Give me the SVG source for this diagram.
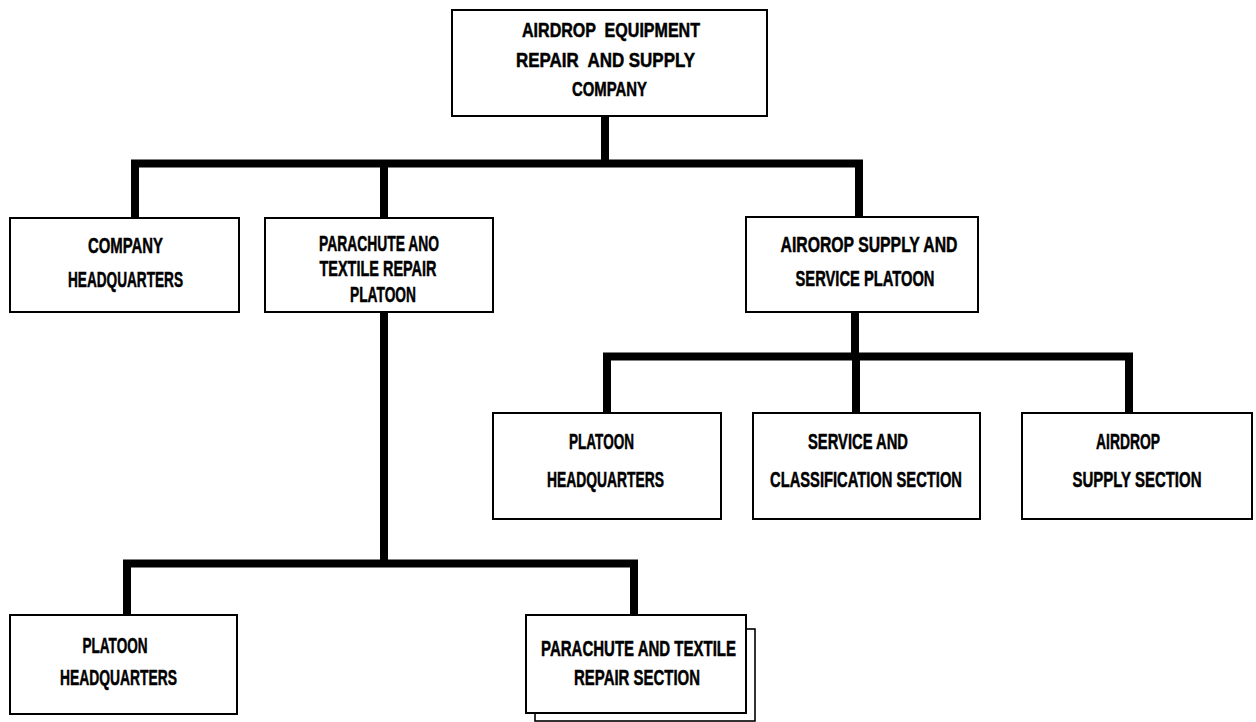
<svg xmlns="http://www.w3.org/2000/svg" width="1256" height="722" viewBox="0 0 1256 722">
<style>
.box{fill:#fff;stroke:#000;stroke-width:2}
.shadow{fill:#fff;stroke:#000;stroke-width:1.6}
.conn{fill:none;stroke:#000;stroke-width:8;stroke-linejoin:miter;stroke-linecap:butt}
text{font-family:"Liberation Sans Narrow","Liberation Sans",Arial,sans-serif;font-weight:bold;font-size:22px;fill:#000;stroke:#000;stroke-width:0.5;white-space:pre}
.sm{font-size:20px}
</style>
<rect width="1256" height="722" fill="#fff"/>
<g id="connectors">
<path class="conn" d="M605 116 V163.5"/>
<path class="conn" d="M135 218 V163.5 H859 V217"/>
<path class="conn" d="M384 163.5 V218"/>
<path class="conn" d="M384 312 V563.5"/>
<path class="conn" d="M127 615 V563.5 H634 V615"/>
<path class="conn" d="M855 312 V356.5"/>
<path class="conn" d="M607 413 V356.5 H1129 V413"/>
<path class="conn" d="M856 356.5 V413"/>
</g>
<g id="node-company">
<rect class="box" x="452" y="10" width="315" height="106"/>
<text class="sm" x="522" y="37" textLength="178" lengthAdjust="spacingAndGlyphs" xml:space="preserve">AIRDROP  EQUIPMENT</text>
<text class="sm" x="516" y="67" textLength="179" lengthAdjust="spacingAndGlyphs" xml:space="preserve">REPAIR  AND SUPPLY</text>
<text class="sm" x="572" y="96" textLength="75" lengthAdjust="spacingAndGlyphs">COMPANY</text>
</g>
<g id="node-company-hq">
<rect class="box" x="10" y="218" width="229" height="94"/>
<text x="88" y="253" textLength="75" lengthAdjust="spacingAndGlyphs">COMPANY</text>
<text x="68" y="287" textLength="115" lengthAdjust="spacingAndGlyphs">HEADQUARTERS</text>
</g>
<g id="node-parachute-platoon">
<rect class="box" x="265" y="218" width="228" height="94"/>
<text x="319" y="251" textLength="120" lengthAdjust="spacingAndGlyphs">PARACHUTE ANO</text>
<text x="319.5" y="276" textLength="117" lengthAdjust="spacingAndGlyphs">TEXTILE REPAIR</text>
<text x="350" y="302" textLength="66" lengthAdjust="spacingAndGlyphs">PLATOON</text>
</g>
<g id="node-supply-service-platoon">
<rect class="box" x="746" y="217" width="232" height="95"/>
<text x="780.5" y="252" textLength="177" lengthAdjust="spacingAndGlyphs">AIROROP SUPPLY AND</text>
<text x="795.5" y="286" textLength="139" lengthAdjust="spacingAndGlyphs">SERVICE PLATOON</text>
</g>
<g id="node-platoon-hq-right">
<rect class="box" x="493" y="413" width="228" height="106"/>
<text x="569" y="449" textLength="65" lengthAdjust="spacingAndGlyphs">PLATOON</text>
<text x="547" y="487" textLength="117" lengthAdjust="spacingAndGlyphs">HEADQUARTERS</text>
</g>
<g id="node-service-classification">
<rect class="box" x="753" y="413" width="227" height="106"/>
<text x="808" y="449" textLength="100" lengthAdjust="spacingAndGlyphs">SERVICE AND</text>
<text x="770" y="487" textLength="192" lengthAdjust="spacingAndGlyphs">CLASSIFICATION SECTION</text>
</g>
<g id="node-airdrop-supply-section">
<rect class="box" x="1022" y="413" width="230" height="106"/>
<text x="1096" y="449" textLength="64" lengthAdjust="spacingAndGlyphs">AIRDROP</text>
<text x="1072.5" y="487" textLength="129" lengthAdjust="spacingAndGlyphs">SUPPLY SECTION</text>
</g>
<g id="node-platoon-hq-left">
<rect class="box" x="10" y="615" width="227" height="99"/>
<text x="82.5" y="653" textLength="65" lengthAdjust="spacingAndGlyphs">PLATOON</text>
<text x="60" y="685" textLength="117" lengthAdjust="spacingAndGlyphs">HEADQUARTERS</text>
</g>
<g id="node-parachute-section">
<rect class="shadow" x="535" y="629" width="220" height="92"/>
<rect class="box" x="526" y="615" width="220" height="98"/>
<text x="541" y="656" textLength="195" lengthAdjust="spacingAndGlyphs">PARACHUTE AND TEXTILE</text>
<text x="574" y="685" textLength="126" lengthAdjust="spacingAndGlyphs">REPAIR SECTION</text>
</g>
</svg>
